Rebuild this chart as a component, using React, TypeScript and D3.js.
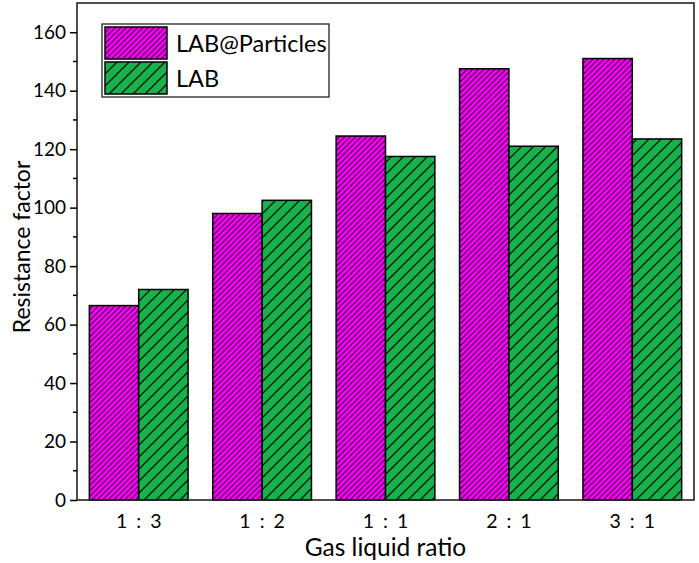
import React, { useEffect, useRef } from "react";
import * as d3 from "d3";

const categories = ["1 : 3", "1 : 2", "1 : 1", "2 : 1", "3 : 1"];
const seriesNames = ["LAB@Particles", "LAB"];
const particlesValues = [66.5, 98, 124.5, 147.5, 151];
const labValues = [72, 102.5, 117.5, 121, 123.5];
const yTicks = [0, 20, 40, 60, 80, 100, 120, 140, 160];
const yMinorTicks = [10, 30, 50, 70, 90, 110, 130, 150];

const colors = ["#ff00ff", "#18b24b"];
const hatchSpacing = [5.5, 12];

const App: React.FC = () => {
  const ref = useRef<SVGSVGElement>(null);

  useEffect(() => {
    if (!ref.current) return;
    const width = 699;
    const height = 563;
    const margin = { top: 3, right: 5, bottom: 63, left: 77 };
    const font = "Lato, 'Open Sans', sans-serif";

    const svg = d3.select(ref.current);
    svg.selectAll("*").remove();

    // hatch fills
    const defs = svg.append("defs");
    colors.forEach((c, i) => {
      const s = hatchSpacing[i];
      const p = defs.append("pattern")
        .attr("id", `hatch${i}`)
        .attr("patternUnits", "userSpaceOnUse")
        .attr("width", s)
        .attr("height", s);
      p.append("rect").attr("width", s).attr("height", s).attr("fill", c);
      p.append("path")
        .attr("d", `M0,${s} L${s},0 M${-s / 2},${s / 2} L${s / 2},${-s / 2} M${s / 2},${s * 1.5} L${s * 1.5},${s / 2}`)
        .attr("stroke", "#111")
        .attr("stroke-width", i === 0 ? 1.0 : 1.3);
    });

    const innerW = width - margin.left - margin.right;
    const innerH = height - margin.top - margin.bottom;
    const g = svg.append("g").attr("transform", `translate(${margin.left},${margin.top})`);

    const x = d3.scaleBand<string>().domain(categories).range([0, innerW]).paddingInner(0.2).paddingOuter(0.1);
    const xSub = d3.scaleBand<number>().domain([0, 1]).range([0, x.bandwidth()]);
    const y = d3.scaleLinear().domain([0, 170]).range([innerH, 0]);

    const series = [particlesValues, labValues];
    series.forEach((vals, si) => {
      g.append("g")
        .selectAll("rect")
        .data(vals)
        .enter()
        .append("rect")
        .attr("x", (_d, i) => (x(categories[i]) as number) + (xSub(si) as number))
        .attr("y", d => y(d))
        .attr("width", xSub.bandwidth())
        .attr("height", d => innerH - y(d))
        .attr("fill", `url(#hatch${si})`)
        .attr("stroke", "#000")
        .attr("stroke-width", 1.5);
    });

    // frame
    g.append("rect")
      .attr("width", innerW)
      .attr("height", innerH)
      .attr("fill", "none")
      .attr("stroke", "#222")
      .attr("stroke-width", 1.6);

    // y axis ticks
    const yAxis = d3.axisLeft(y).tickValues(yTicks).tickSize(7).tickPadding(4);
    const ya = g.append("g").call(yAxis);
    ya.select(".domain").remove();
    ya.selectAll("line").attr("stroke", "#000").attr("stroke-width", 1.5);
    ya.selectAll("text").attr("font-family", font).attr("font-size", 19).attr("fill", "#000");

    g.append("g")
      .selectAll("line")
      .data(yMinorTicks)
      .enter()
      .append("line")
      .attr("x1", -4)
      .attr("x2", 0)
      .attr("y1", d => y(d))
      .attr("y2", d => y(d))
      .attr("stroke", "#000")
      .attr("stroke-width", 1.5);

    // x labels
    const xa = g.append("g").attr("transform", `translate(0,${innerH})`).call(d3.axisBottom(x).tickSize(0).tickPadding(14));
    xa.select(".domain").remove();
    xa.selectAll("text")
      .attr("font-family", font)
      .attr("font-size", 19.5)
      .attr("letter-spacing", 2)
      .attr("dx", 1)
      .attr("fill", "#000");

    svg.append("text")
      .attr("x", margin.left + innerW / 2)
      .attr("y", 556)
      .attr("text-anchor", "middle")
      .attr("font-family", font)
      .attr("font-size", 24.5)
      .attr("fill", "#000")
      .text("Gas liquid ratio");

    svg.append("text")
      .attr("transform", `translate(30,247) rotate(-90)`)
      .attr("text-anchor", "middle")
      .attr("font-family", font)
      .attr("font-size", 23)
      .attr("fill", "#000")
      .text("Resistance factor");

    // legend
    const lg = svg.append("g").attr("transform", "translate(102,24)");
    lg.append("rect")
      .attr("width", 227)
      .attr("height", 73)
      .attr("fill", "#fff")
      .attr("stroke", "#222")
      .attr("stroke-width", 1.3);
    seriesNames.forEach((name, i) => {
      const row = lg.append("g").attr("transform", `translate(3,${3 + i * 35})`);
      row.append("rect")
        .attr("width", 62)
        .attr("height", 32)
        .attr("fill", `url(#hatch${i})`)
        .attr("stroke", "#000")
        .attr("stroke-width", 1.5);
      row.append("text")
        .attr("x", 71)
        .attr("y", 25)
        .attr("font-family", font)
        .attr("font-size", 23.5)
        .attr("fill", "#000")
        .text(name);
    });
  }, []);

  return (
    <svg
      ref={ref}
      width={699}
      height={563}
      style={{ position: "absolute", left: 0, top: 0, background: "#fff" }}
    />
  );
};

export default App;
